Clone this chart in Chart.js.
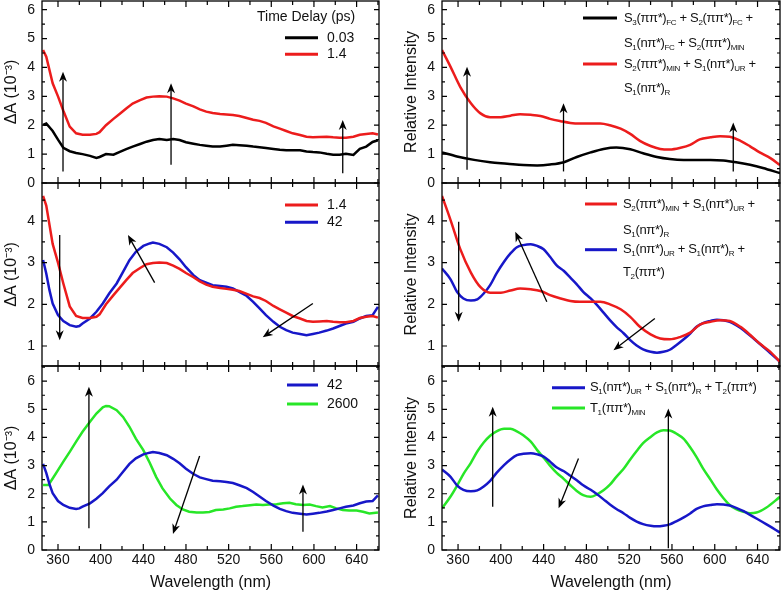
<!DOCTYPE html>
<html>
<head>
<meta charset="utf-8">
<title>Transient absorption vs. simulated spectra</title>
<script src="https://cdn.jsdelivr.net/npm/chart.js@4.4.1/dist/chart.umd.min.js"></script>
<style>
  body { margin: 0; background: #fff; }
  #wrap { position: relative; width: 781px; height: 592px; overflow: hidden; background: #fff; }
  #wrap canvas { position: absolute; }
</style>
</head>
<body>
<div id="wrap">
  <canvas id="p1" width="390" height="190" style="left:0px;top:0px"></canvas>
  <canvas id="p2" width="390" height="197" style="left:0px;top:176px"></canvas>
  <canvas id="p3" width="390" height="233" style="left:0px;top:359px"></canvas>
  <canvas id="p4" width="391" height="190" style="left:390px;top:0px"></canvas>
  <canvas id="p5" width="391" height="197" style="left:390px;top:176px"></canvas>
  <canvas id="p6" width="391" height="233" style="left:390px;top:359px"></canvas>
</div>
<script>
var wlExp = [346,349,355,360,365,371,377,383,390,396,399,405,412,418,424,430,437,443,449,455,462,468,474,480,487,
             493,499,505,512,518,524,530,537,543,549,555,562,568,574,580,587,593,599,605,612,618,624,630,637,643,649,655,660];
var dA_003 = [2.01,2.06,1.8,1.5,1.22,1.1,1.04,1.0,0.94,0.87,0.9,1.0,0.98,1.08,1.17,1.26,1.35,1.43,1.49,1.52,1.49,1.52,1.49,1.41,1.36,
              1.32,1.29,1.26,1.26,1.29,1.32,1.31,1.29,1.26,1.24,1.21,1.18,1.15,1.13,1.13,1.13,1.09,1.07,1.06,1.01,0.98,0.98,1.01,0.97,1.18,1.26,1.42,1.48];
var dA_14 = [4.6,4.37,3.45,3.0,2.5,1.95,1.72,1.67,1.67,1.7,1.76,2.0,2.22,2.4,2.58,2.75,2.87,2.96,2.99,3.0,2.99,2.93,2.85,2.75,2.65,
             2.55,2.47,2.42,2.39,2.37,2.35,2.32,2.25,2.19,2.15,2.08,1.96,1.88,1.8,1.72,1.66,1.6,1.58,1.59,1.6,1.58,1.57,1.57,1.6,1.67,1.7,1.72,1.68];
var wl42 = [346,349,352,355,360,365,371,377,380,383,390,396,402,408,415,421,427,433,440,446,449,455,462,468,474,480,487,
            493,499,505,512,518,524,530,537,543,549,555,562,568,574,580,587,593,599,605,612,618,624,630,637,643,649,655,660];
var dA_42 = [3.06,2.74,2.34,2.02,1.74,1.6,1.5,1.46,1.48,1.54,1.66,1.82,2.02,2.26,2.5,2.78,3.06,3.26,3.4,3.46,3.48,3.45,3.37,3.24,3.08,2.89,2.7,
             2.58,2.52,2.46,2.44,2.42,2.38,2.3,2.2,2.06,1.9,1.74,1.58,1.46,1.38,1.32,1.29,1.26,1.29,1.32,1.37,1.42,1.48,1.54,1.58,1.66,1.72,1.74,1.94];
var wl2600 = [346,351,355,360,365,371,377,383,390,396,402,405,408,415,421,427,433,440,446,452,458,465,471,477,483,490,496,
              502,508,515,521,527,533,540,546,552,558,565,571,577,583,590,596,602,608,615,621,627,633,640,646,652,660];
var dA_2600 = [2.31,2.31,2.54,2.84,3.14,3.49,3.85,4.2,4.56,4.85,5.07,5.12,5.11,4.97,4.73,4.38,3.96,3.55,3.1,2.6,2.19,1.83,1.6,1.44,1.36,1.33,1.33,
               1.35,1.42,1.44,1.48,1.54,1.56,1.59,1.62,1.6,1.62,1.63,1.66,1.68,1.63,1.6,1.62,1.56,1.51,1.56,1.48,1.42,1.4,1.4,1.36,1.3,1.33];

// ---- simulated spectra (right column), relative intensity ----
var wlBlack = [345,359,375,390,406,421,434,446,459,471,484,496,508,521,533,546,558,571,583,596,608,620,633,645,661];
var simBlack = [1.06,0.92,0.8,0.72,0.67,0.62,0.61,0.64,0.72,0.9,1.06,1.18,1.23,1.17,1.03,0.9,0.83,0.8,0.8,0.8,0.78,0.72,0.63,0.52,0.34];
var wlRed = [345,353,362,372,381,390,400,409,418,428,437,446,456,465,474,484,493,502,512,521,530,540,549,558,568,577,586,596,605,614,624,633,642,652,661];
var simRed = [4.6,4.02,3.33,2.76,2.41,2.28,2.28,2.33,2.38,2.36,2.32,2.22,2.14,2.08,2.06,2.06,2.06,2.0,1.88,1.7,1.46,1.28,1.18,1.16,1.22,1.32,1.51,1.58,1.62,1.6,1.46,1.27,1.06,0.86,0.62];
var wlSim = [345,353,359,365,372,378,384,390,396,403,409,415,421,428,434,440,446,452,459,465,471,477,484,490,496,
             502,508,515,521,527,533,540,546,552,558,564,571,577,583,589,596,602,608,614,620,627,633,639,648,661];
var simBlue = [2.86,2.6,2.3,2.14,2.09,2.12,2.26,2.46,2.74,3.02,3.22,3.37,3.42,3.44,3.4,3.32,3.14,2.94,2.8,2.64,2.48,2.3,2.14,1.98,1.8,
               1.62,1.46,1.3,1.14,1.01,0.92,0.86,0.84,0.86,0.91,1.02,1.16,1.3,1.46,1.55,1.6,1.63,1.62,1.58,1.5,1.38,1.25,1.12,0.92,0.62];
var simGreen = [1.48,1.9,2.28,2.7,3.1,3.5,3.82,4.06,4.22,4.31,4.31,4.22,4.08,3.85,3.55,3.28,3.0,2.75,2.52,2.3,2.1,1.95,1.89,1.98,2.12,
                2.32,2.6,2.9,3.22,3.52,3.8,4.02,4.18,4.26,4.25,4.14,3.95,3.65,3.3,2.9,2.5,2.15,1.85,1.6,1.45,1.36,1.31,1.33,1.5,1.89];

// ---- axes ----
var xMin = 345, xMax = 661;
var xTickLabels = [360,400,440,480,520,560,600,640];
var xTicks = [360,380,400,420,440,460,480,500,520,540,560,580,600,620,640,660];
var yTicksFull = [0,1,2,3,4,5,6];
var yTicksMid = [1,2,3,4];

// ---- arrows [x1, y1, x2(tip), y2(tip)] in data units ----
var arrows1 = [[364.7,0.4,364.7,3.85],[466,0.63,466,3.45],[627,0.34,627,2.18]];
var arrows2 = [[361.6,3.66,361.6,1.14],[450.6,2.52,425.6,3.66],[599,2.02,552,1.21]];
var arrows3 = [[389,0.77,389,5.8],[492.8,3.34,467.8,0.57],[589.7,0.65,589.7,2.33]];
var arrows4 = [[368.4,0.46,368.4,4.02],[458.6,0.4,458.6,2.76],[617.3,0.4,617.3,2.09]];
var arrows5 = [[360.6,3.98,360.6,1.58],[443,2.06,413.5,3.74],[544,1.66,505.3,0.9]];
var arrows6 = [[392.4,1.54,392.4,5.09],[472.6,3.25,454,1.48],[556.6,0.06,556.6,5.03]];

var BLACK = '#000000', RED = '#ec1c1c', BLUE = '#1717c8', GREEN = '#27e627';
var FONT = '"Liberation Sans", Arial, Helvetica, sans-serif';
Chart.defaults.font.family = FONT;
Chart.defaults.color = '#111';

function pts(xs, ys) {
  return xs.map(function(x, i) { return {x: x, y: ys[i]}; });
}

// "S_{1}(nπ*)_{UR}" -> pieces with sub/superscripts
function drawRich(ctx, str, x, y, size, tight) {
  var re = /([_^])\{([^}]*)\}|([^_^]+)/g, m;
  ctx.letterSpacing = tight ? '-0.35px' : '0px';
  while ((m = re.exec(str))) {
    var t = m[3] || m[2], k = m[3] ? 0 : (m[1] === '_' ? -1 : 1);
    var fs = k ? Math.round(size * 0.62) : size;
    ctx.font = fs + 'px ' + FONT;
    var dy = k < 0 ? size * 0.34 : (k > 0 ? -size * 0.35 : 0);
    ctx.fillText(t, x, y + dy);
    x += ctx.measureText(t).width;
  }
  ctx.letterSpacing = '0px';
}

function arrow(ctx, x1, y1, x2, y2) {
  var a = Math.atan2(y2 - y1, x2 - x1), L = 10, W = 4;
  ctx.beginPath();
  ctx.moveTo(x1, y1);
  ctx.lineTo(x2 - Math.cos(a) * 6, y2 - Math.sin(a) * 6);
  ctx.stroke();
  ctx.beginPath();
  ctx.moveTo(x2, y2);
  ctx.lineTo(x2 - L * Math.cos(a) + W * Math.sin(a), y2 - L * Math.sin(a) - W * Math.cos(a));
  ctx.lineTo(x2 - 7 * Math.cos(a), y2 - 7 * Math.sin(a));
  ctx.lineTo(x2 - L * Math.cos(a) - W * Math.sin(a), y2 - L * Math.sin(a) + W * Math.cos(a));
  ctx.closePath();
  ctx.fill();
}

// frame, inward ticks, arrows and legend
var deco = {
  id: 'deco',
  afterDatasetsDraw: function(chart, args, o) {
    var ctx = chart.ctx, a = chart.chartArea, xs = chart.scales.x, ys = chart.scales.y;
    ctx.save();
    ctx.strokeStyle = '#000';
    ctx.fillStyle = '#000';
    ctx.lineWidth = 1.3;
    ctx.strokeRect(a.left, a.top, a.right - a.left, a.bottom - a.top);

    ctx.lineWidth = 1.2;
    ctx.beginPath();
    xTicks.forEach(function(v) {
      var px = xs.getPixelForValue(v), len = xTickLabels.indexOf(v) >= 0 ? 6 : 4;
      ctx.moveTo(px, a.bottom); ctx.lineTo(px, a.bottom - len);
      ctx.moveTo(px, a.top); ctx.lineTo(px, a.top + len);
    });
    for (var v = Math.ceil(ys.min * 2) / 2; v <= ys.max + 1e-9; v += 0.5) {
      var py = ys.getPixelForValue(v), len = (v % 1 === 0) ? 5 : 3;
      ctx.moveTo(a.left, py); ctx.lineTo(a.left + len, py);
      ctx.moveTo(a.right, py); ctx.lineTo(a.right - len, py);
    }
    ctx.stroke();

    ctx.lineWidth = 1.3;
    (o.arrows || []).forEach(function(r) {
      arrow(ctx, xs.getPixelForValue(r[0]), ys.getPixelForValue(r[1]),
                 xs.getPixelForValue(r[2]), ys.getPixelForValue(r[3]));
    });

    var L = o.legend;
    if (L) {
      ctx.textBaseline = 'middle';
      ctx.textAlign = 'left';
      L.rows.forEach(function(r) {
        var y = a.top + r[0];
        if (r[1]) {
          ctx.strokeStyle = r[1];
          ctx.lineWidth = 3;
          ctx.beginPath();
          ctx.moveTo(a.left + L.x1, y); ctx.lineTo(a.left + L.x2, y);
          ctx.stroke();
        }
        ctx.fillStyle = '#111';
        drawRich(ctx, r[2], a.left + (r[3] !== undefined ? r[3] : L.tx), y, L.size, L.tight);
      });
    }
    ctx.restore();
  }
};

function buildPanel(id, col, row, yMin, yMax, yTicks, yTitle, series, smooth, arrows, legend) {
  var isLeft = col === 0, isBottom = row === 2;
  return new Chart(document.getElementById(id), {
    type: 'line',
    data: {
      datasets: series.map(function(s) {
        return {
          label: s[0], data: pts(s[1], s[2]), borderColor: s[3], borderWidth: 2.5,
          pointRadius: 0, fill: false, tension: smooth ? 0.4 : 0,
          cubicInterpolationMode: smooth ? 'monotone' : 'default'
        };
      })
    },
    options: {
      responsive: false, animation: false, events: [],
      layout: { padding: { left: 0, right: isLeft ? 11 : 1, top: row === 0 ? 1 : 7, bottom: isBottom ? 0 : 7 } },
      plugins: { legend: { display: false }, tooltip: { enabled: false }, deco: { arrows: arrows, legend: legend } },
      scales: {
        x: {
          type: 'linear', min: xMin, max: xMax, display: isBottom,
          grid: { display: false, drawTicks: false }, border: { display: false },
          ticks: { autoSkip: false, maxRotation: 0, padding: 2, color: '#111', font: { size: 14 },
                   callback: function(v) { return String(v); } },
          afterBuildTicks: function(s) { s.ticks = xTickLabels.map(function(v) { return {value: v}; }); },
          afterFit: function(s) {
            s.height = isBottom ? 42 : 0;
            s.paddingLeft = 0; s.paddingRight = 0;
          },
          title: { display: true, text: 'Wavelength (nm)', color: '#111', font: { size: 16 }, padding: { top: 0, bottom: 0 } }
        },
        y: {
          type: 'linear', min: yMin, max: yMax,
          grid: { display: false, drawTicks: false }, border: { display: false },
          ticks: { padding: 7, color: '#111', font: { size: 14 }, callback: function(v) { return String(v); } },
          afterBuildTicks: function(s) { s.ticks = yTicks.map(function(v) { return {value: v}; }); },
          afterFit: function(s) {
            s.width = isLeft ? 42 : 52;
            s.paddingTop = 0; s.paddingBottom = 0;
          },
          title: { display: true, text: yTitle, color: '#111', font: { size: 16 }, padding: { top: isLeft ? 2 : 12, bottom: 0 } }
        }
      }
    },
    plugins: [deco]
  });
}

var dAtitle = 'ΔA (10⁻³)', riTitle = 'Relative Intensity';

buildPanel('p1', 0, 0, 0, 6.3, yTicksFull, dAtitle,
  [['0.03', wlExp, dA_003, BLACK], ['1.4', wlExp, dA_14, RED]], false, arrows1,
  { x1: 243, x2: 276, tx: 285, size: 14,
    rows: [[16, null, 'Time Delay (ps)', 215], [36.7, BLACK, '0.03'], [53.3, RED, '1.4']] });

buildPanel('p2', 0, 1, 0.52, 4.91, yTicksMid, dAtitle,
  [['1.4', wlExp, dA_14, RED], ['42', wl42, dA_42, BLUE]], false, arrows2,
  { x1: 243, x2: 276, tx: 285, size: 14, rows: [[22, RED, '1.4'], [39.3, BLUE, '42']] });

buildPanel('p3', 0, 2, 0, 6.54, yTicksFull, dAtitle,
  [['42', wl42, dA_42, BLUE], ['2600', wl2600, dA_2600, GREEN]], false, arrows3,
  { x1: 245, x2: 276, tx: 285, size: 14, rows: [[19, BLUE, '42'], [38, GREEN, '2600']] });

buildPanel('p4', 1, 0, 0, 6.3, yTicksFull, riTitle,
  [['FC', wlBlack, simBlack, BLACK], ['MIN', wlRed, simRed, RED]], true, arrows4,
  { x1: 141, x2: 175, tx: 182, size: 13, tight: true,
    rows: [[17, BLACK, 'S_{3}(ππ*)_{FC} + S_{2}(ππ*)_{FC} +'], [42, null, 'S_{1}(nπ*)_{FC} + S_{2}(ππ*)_{MIN}'],
           [63, RED, 'S_{2}(ππ*)_{MIN} + S_{1}(nπ*)_{UR} +'], [87, null, 'S_{1}(nπ*)_{R}']] });

buildPanel('p5', 1, 1, 0.52, 4.91, yTicksMid, riTitle,
  [['MIN', wlRed, simRed, RED], ['UR', wlSim, simBlue, BLUE]], true, arrows5,
  { x1: 143, x2: 175, tx: 181, size: 13, tight: true,
    rows: [[21, RED, 'S_{2}(ππ*)_{MIN} + S_{1}(nπ*)_{UR} +'], [47.5, null, 'S_{1}(nπ*)_{R}'],
           [66.7, BLUE, 'S_{1}(nπ*)_{UR} + S_{1}(nπ*)_{R} +'], [89.5, null, 'T_{2}(ππ*)']] });

buildPanel('p6', 1, 2, 0, 6.54, yTicksFull, riTitle,
  [['UR', wlSim, simBlue, BLUE], ['T1', wlSim, simGreen, GREEN]], true, arrows6,
  { x1: 110, x2: 143, tx: 148, size: 13, tight: true,
    rows: [[21.7, BLUE, 'S_{1}(nπ*)_{UR} + S_{1}(nπ*)_{R} + T_{2}(ππ*)'], [42, GREEN, 'T_{1}(ππ*)_{MIN}']] });
</script>
</body>
</html>
